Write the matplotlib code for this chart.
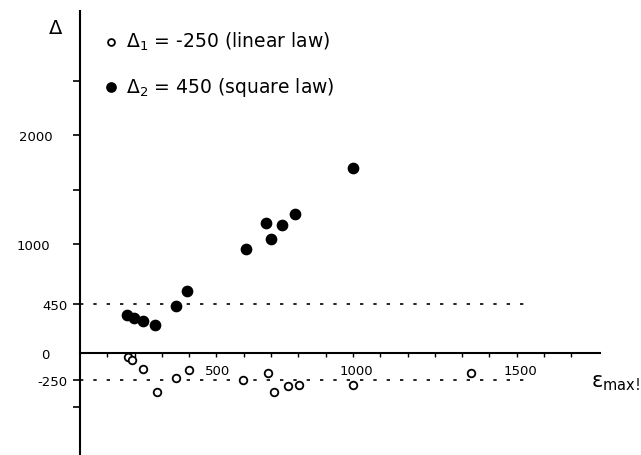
import matplotlib
matplotlib.use("Agg")
import matplotlib.pyplot as plt

# Δ1 (linear law), open circles
eps_lin = [174, 189, 232, 283, 352, 398, 598, 689, 711, 763, 803, 1001, 1431]
d_lin = [-37, -64, -147, -355, -232, -153, -250, -183, -361, -300, -294, -294, -183]

# Δ2 (square law), filled dots
eps_sq = [171, 198, 232, 276, 353, 393, 609, 680, 700, 741, 788, 1001]
d_sq = [351, 321, 291, 260, 434, 566, 954, 1190, 1043, 1177, 1272, 1697]

D1, D2 = -250, 450
REF_END = 1650            # where the dotted reference lines stop

YTICKS = [2500, 2000, 1500, 1000, 450, 0, -250, -500]
YLABELS = ["", "2000", "", "1000", "450", "0", "-250", ""]
YPADS = [3, 14.5, 3, 16.5, 4, 17, 4, 3]      # labels in the scan are not aligned
XTICKS = list(range(100, 1900, 100))
XLAB_TXT = ["500", "1000", "1500"]
XLAB_POS = [505, 1013, 1614]                 # "1500" sits off its tick in the original

plt.rcParams["font.family"] = "DejaVu Sans"
plt.rcParams["mathtext.fontset"] = "dejavusans"

fig = plt.figure(figsize=(6.41, 4.56), dpi=100)
ax = fig.add_axes([80 / 641, 0, 561 / 641, 1])
ax.set_xlim(0, 2055)
ax.set_ylim(-936, 3248)

for s in ("top", "right"):
    ax.spines[s].set_visible(False)
ax.spines["left"].set_linewidth(1.5)
ax.spines["left"].set_bounds(-936, 3140)
ax.spines["bottom"].set_position(("data", 0))
ax.spines["bottom"].set_linewidth(1.5)
ax.spines["bottom"].set_bounds(0, 1905)

ax.set_xticks(XTICKS)
ax.set_xticklabels([])
ax.tick_params(axis="x", direction="out", length=3, width=1)
ax.set_yticks(YTICKS)
ax.set_yticklabels(YLABELS, fontsize=9.5)
ax.tick_params(axis="y", direction="out", length=5, width=1.2)
for t, p, v in zip(ax.yaxis.get_major_ticks(), YPADS, YTICKS):
    t.set_pad(p)
    if v == 0:
        t.tick1line.set_visible(False)

for txt, xp in zip(XLAB_TXT, XLAB_POS):
    ax.text(xp, -160, txt, fontsize=9.5, ha="center", va="center")

ax.hlines([D2, D1], 0, REF_END, colors="black", lw=1.2, linestyles=(0, (2, 6)))

h1 = ax.scatter(eps_lin, d_lin, s=30, facecolors="white", edgecolors="black",
                linewidths=1.3, zorder=3)
h2 = ax.scatter(eps_sq, d_sq, s=55, color="black", zorder=3)

ax.legend([h1, h2], [r"$\Delta_1$ = -250 (linear law)", r"$\Delta_2$ = 450 (square law)"],
          loc="upper left", bbox_to_anchor=(103 / 641, 1 - 31 / 456),
          bbox_transform=fig.transFigure, frameon=False, fontsize=13.5,
          handletextpad=0.45, handlelength=0.8, labelspacing=1.2, borderpad=0,
          borderaxespad=0, markerscale=0.9)

fig.text(56 / 641, 1 - 29 / 456, r"$\Delta$", fontsize=14, ha="center", va="center")
ax.text(0.998, 0.16, r"ε$_{\mathrm{max!}}$", transform=ax.transAxes, fontsize=15,
        ha="right", va="center")

fig.savefig("out.png", dpi=100)
